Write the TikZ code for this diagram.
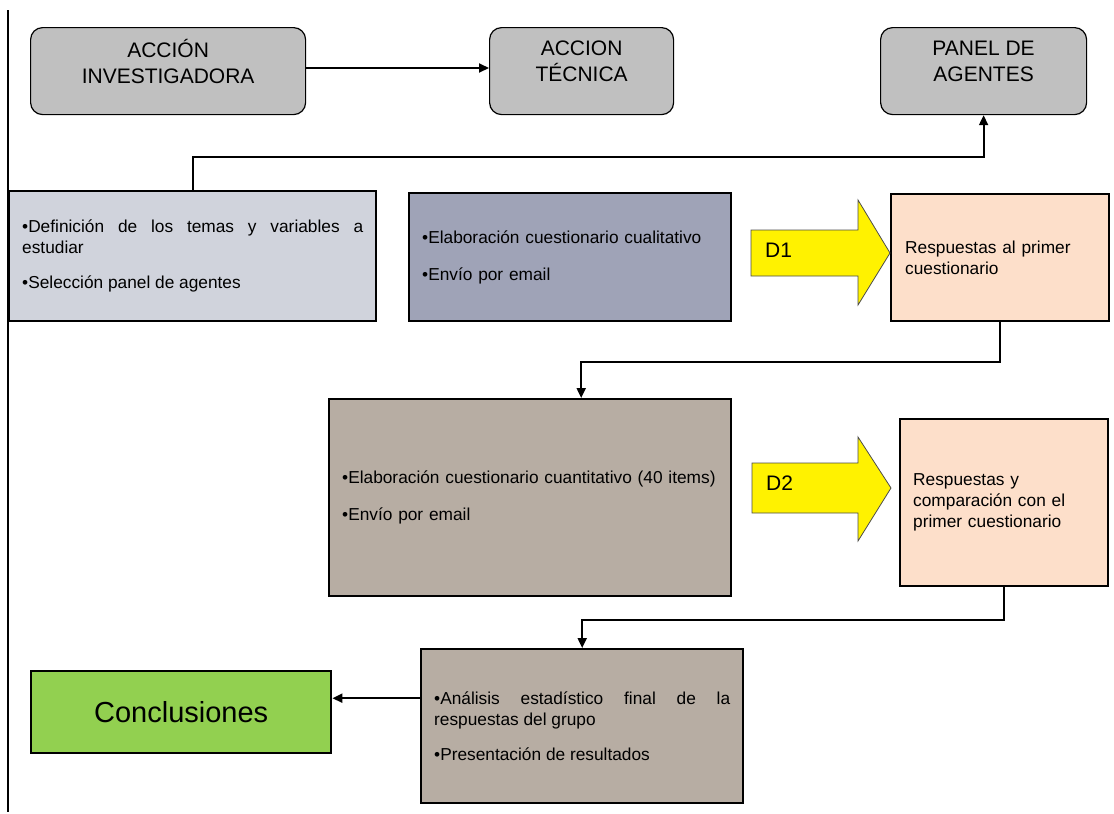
\documentclass[tikz,border=0pt]{standalone}
\usepackage{fontspec}
\setmainfont{Liberation Sans}
\usetikzlibrary{arrows.meta}
\definecolor{titlegray}{HTML}{C0C0C0}
\definecolor{paleblue}{HTML}{D0D3DC}
\definecolor{slateblue}{HTML}{9FA3B7}
\definecolor{peach}{HTML}{FDDFCA}
\definecolor{taupe}{HTML}{B7ADA3}
\definecolor{leafgreen}{HTML}{92D050}
\newcommand{\titlefont}{\fontsize{21}{26}\selectfont}
\newcommand{\bodyfont}{\fontsize{17.3}{21}\selectfont}
\hyphenpenalty=10000
\exhyphenpenalty=10000

\begin{document}
\begin{tikzpicture}[x=1pt,y=-1pt,
    titlebox/.style={draw,line width=1.2pt,rounded corners=12pt,fill=titlegray,
      anchor=north west,align=center,font=\titlefont,minimum height=87},
    blk/.style={draw,line width=2.4pt,anchor=north west,inner xsep=13pt,font=\bodyfont},
    conn/.style={line width=2pt,-{Triangle[length=10pt,width=9pt]}},
    darrow/.style={fill=yellow,draw=black!70,line width=0.8pt}]
  \useasboundingbox (0,0) rectangle (1114,814);
  \draw[line width=1.8pt] (8,10) -- (8,812);

  % top row
  \node[titlebox,minimum width=275] (invest) at (30,27) {ACCIÓN\\INVESTIGADORA\\[-7pt]\mbox{}};
  \node[titlebox,minimum width=184] (tecnica) at (489,27) {ACCION\\TÉCNICA\\[-7pt]\mbox{}};
  \node[titlebox,minimum width=206] (panel) at (880,27) {PANEL DE\\AGENTES\\[-7pt]\mbox{}};

  % first round
  \node[blk,fill=paleblue,minimum width=367,minimum height=130,text width=341,align=justify] (defin) at (8,190)
    {•Definición de los temas y variables a estudiar\\[14pt]•Selección panel de agentes};
  \node[blk,fill=slateblue,minimum width=322,minimum height=128,text width=296,align=left] (cuali) at (408,192)
    {•Elaboración cuestionario cualitativo\\[16pt]•Envío por email};
  \node[blk,fill=peach,minimum width=218,minimum height=127,text width=190,align=left] (resp1) at (890,193)
    {Respuestas al primer\\cuestionario};
  \draw[darrow] (751,230) -- (858,230) -- (858,200) -- (890,253) -- (858,305) -- (858,276) -- (751,276) -- cycle;
  \node[anchor=west,inner sep=0pt,font=\fontsize{21}{25}\selectfont] (d1) at (765,250) {D1};

  % second round
  \node[blk,fill=taupe,minimum width=402,minimum height=197,text width=376,align=left] (quanti) at (328,398)
    {•Elaboración cuestionario cuantitativo (40 items)\\[16pt]•Envío por email};
  \node[blk,fill=peach,minimum width=208,minimum height=167,text width=182,align=left] (resp2) at (899,418)
    {Respuestas y\\comparación con el\\primer cuestionario};
  \draw[darrow] (752,463) -- (858,463) -- (858,437) -- (891,488) -- (858,541) -- (858,513) -- (752,513) -- cycle;
  \node[anchor=west,inner sep=0pt,font=\fontsize{21}{25}\selectfont] (d2) at (766,483) {D2};

  % final
  \node[blk,fill=taupe,minimum width=322,minimum height=154,text width=296,align=justify] (analisis) at (420,648)
    {•Análisis estadístico final de la respuestas del grupo\\[14pt]•Presentación de resultados};
  \node[blk,fill=leafgreen,minimum width=300,minimum height=82,align=center,
    font=\fontsize{29}{34}\selectfont] (concl) at (30,670) {Conclusiones};

  % connectors
  \draw[conn] (invest.east |- 0,68) -- (tecnica.west |- 0,68);
  \draw[conn] (defin.north) -- ++(0,-33) -| (panel.south);
  \draw[conn] (resp1.south) -- ++(0,40) -| ([xshift=51pt]quanti.north);
  \draw[conn] (resp2.south) -- ++(0,33) -| (analisis.north);
  \draw[conn] ([yshift=28pt]analisis.west) -- ([yshift=28pt]analisis.west -| concl.east);
\end{tikzpicture}
\end{document}
